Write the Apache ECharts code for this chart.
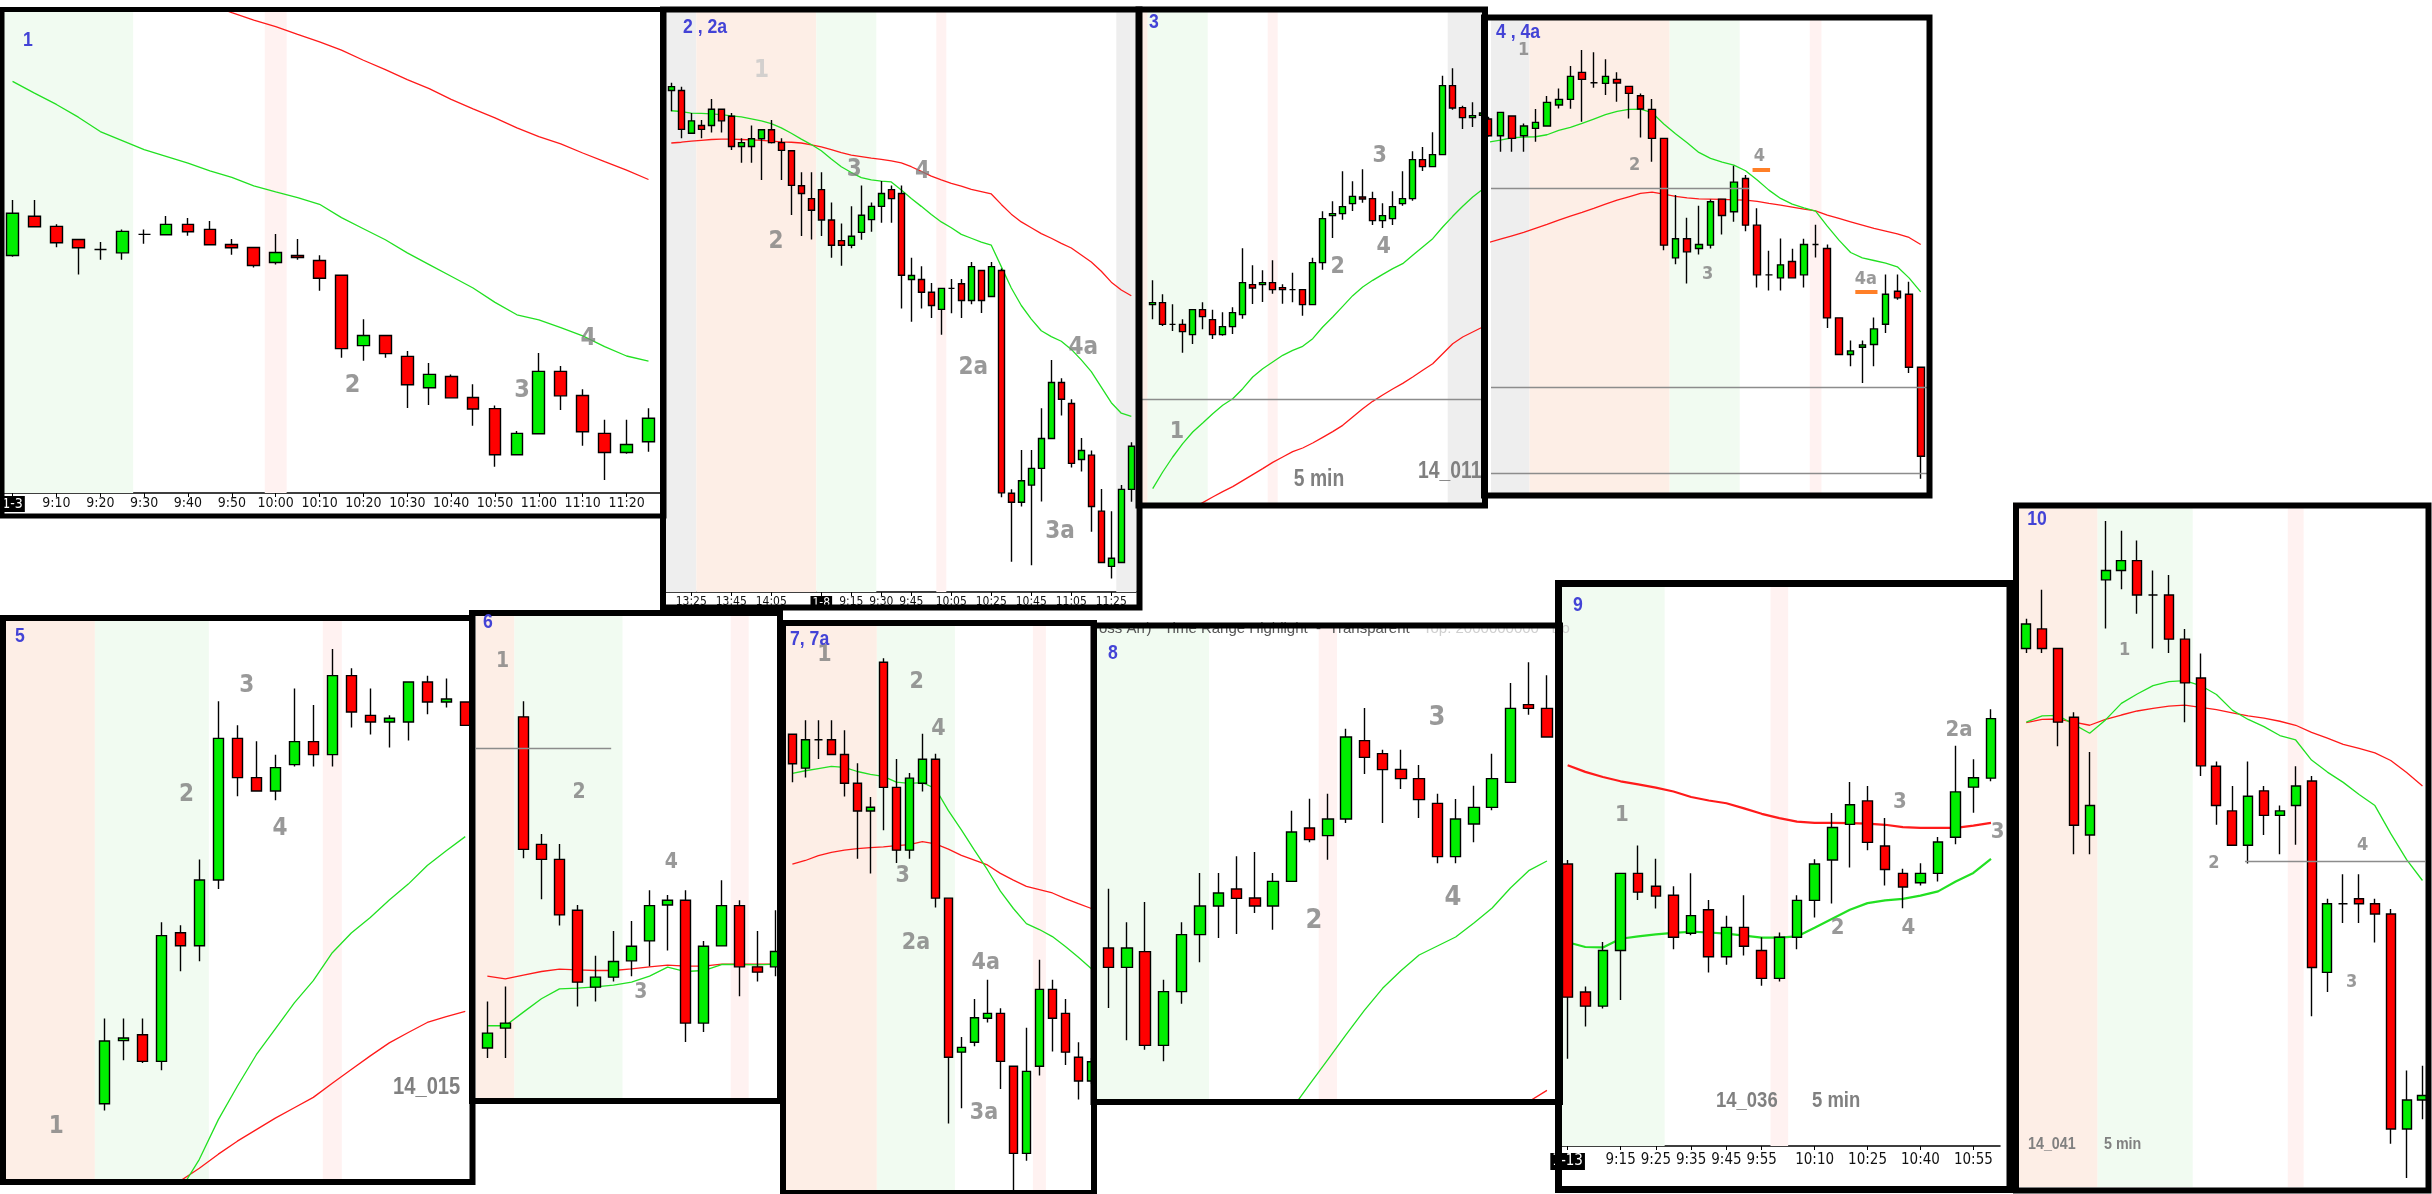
<!DOCTYPE html>
<html>
<head>
<meta charset="utf-8">
<title>Pullback setups 1-10</title>
<script src="https://cdn.jsdelivr.net/npm/echarts@6/dist/echarts.min.js"></script>
<style>
    html, body { margin: 0; padding: 0; background: #fff; }
    #chart { width: 2432px; height: 1194px; }
</style>
</head>
<body>
<div id="chart"></div>
<script>
const p1Candles = [
    [837, 963, 833, 1003], [954, 923, 923, 1003], [924, 875, 862, 930], [885, 860, 780, 885],
    [855, 855, 824, 877], [845, 909, 824, 915], [900, 900, 872, 915], [899, 930, 899, 955],
    [930, 908, 896, 949], [915, 869, 869, 940], [870, 860, 839, 886], [861, 807, 801, 861],
    [816, 846, 810, 901], [837, 831, 824, 886], [822, 769, 732, 838], [778, 559, 532, 778],
    [568, 598, 523, 647], [598, 544, 532, 598], [536, 451, 382, 552], [442, 482, 391, 516],
    [476, 412, 412, 482], [413, 379, 329, 453], [380, 242, 206, 389], [242, 306, 242, 313],
    [305, 491, 305, 546], [491, 418, 376, 507], [419, 311, 269, 438], [306, 249, 167, 347],
    [249, 273, 245, 347], [281, 351, 251, 381]
];
const p1MaFast = [1357, 1322, 1288, 1250, 1207, 1180, 1153, 1133, 1113, 1090, 1070, 1045, 1027, 1010, 990,
    950, 917, 884, 845, 810, 775, 740, 697, 660, 645, 622, 597, 565, 537, 522];
const p1MaSlow = [null, null, null, null, null, null, null, null, null, 1586, 1562, 1540, 1520, 1497, 1475,
    1450, 1420, 1392, 1362, 1335, 1303, 1275, 1248, 1218, 1192, 1170, 1143, 1117, 1092, 1064];
const p1Bands = [[null, 5.5, 'green'], [11.5, 12.5, 'pink']];
const p1TickBars = [0, 2, 4, 6, 8, 10, 12, 14, 16, 18, 20, 22, 24, 26, 28];
const p1TickLabels = ['1-3', '9:10', '9:20', '9:30', '9:40', '9:50', '10:00', '10:10', '10:20', '10:30',
    '10:40', '10:50', '11:00', '11:10', '11:20'];

const p2Candles = [
    [1368, 1378, 1315, 1388], [1368, 1268, 1245, 1378], [1258, 1290, 1258, 1310], [1278, 1268, 1245, 1292],
    [1278, 1320, 1260, 1346], [1320, 1290, 1260, 1320], [1302, 1224, 1215, 1310], [1224, 1234, 1182, 1245],
    [1224, 1244, 1182, 1278], [1244, 1267, 1138, 1267], [1267, 1234, 1232, 1292], [1234, 1214, 1138, 1245],
    [1213, 1124, 1048, 1213], [1123, 1103, 994, 1158], [1090, 1060, 985, 1158], [1113, 1035, 994, 1158],
    [1035, 970, 938, 1080], [982, 970, 917, 1026], [970, 993, 962, 1070], [1003, 1047, 984, 1124],
    [1036, 1070, 1005, 1080], [1070, 1103, 1028, 1135], [1113, 1090, 1028, 1124], [1103, 893, 807, 1124],
    [882, 892, 773, 938], [882, 849, 807, 916], [849, 815, 783, 873], [805, 859, 740, 859],
    [859, 859, 795, 883], [871, 828, 783, 883], [828, 915, 818, 927], [905, 828, 796, 905],
    [838, 915, 838, 927], [905, 333, 322, 910], [332, 309, 156, 342], [309, 364, 298, 443],
    [353, 396, 147, 443], [396, 473, 311, 551], [473, 617, 473, 675], [617, 574, 532, 628],
    [563, 409, 398, 574], [419, 442, 388, 474], [430, 298, 233, 442], [286, 154, 154, 343],
    [144, 165, 113, 286], [154, 342, 154, 353], [342, 453, 310, 463]
];
const p2MaFast = [1316, 1314, 1310, 1309, 1308, 1306, 1303, 1300, 1295, 1290, 1283, 1272, 1258, 1243, 1229,
    1213, 1192, 1172, 1157, 1144, 1138, 1135, 1133, 1112, 1090, 1070, 1049, 1030, 1015, 998,
    988, 978, 970, 915, 860, 815, 780, 750, 735, 723, 702, 675, 645, 605, 565, 538, 530];
const p2MaSlow = [1233, 1235, 1238, 1240, 1242, 1243, 1243, 1242, 1241, 1240, 1238, 1236, 1235, 1233, 1228,
    1223, 1216, 1208, 1202, 1198, 1194, 1191, 1187, 1182, 1172, 1160, 1148, 1138, 1129, 1122,
    1114, 1108, 1102, 1075, 1050, 1030, 1015, 1000, 988, 975, 963, 945, 927, 903, 875, 855, 840];
const p2Bands = [[null, 2.5, 'gray'], [2.5, 14.5, 'salmon'], [14.5, 20.5, 'green'], [26.5, 27.5, 'pink'],
    [44.5, null, 'gray']];
const p2TickBars = [2, 6, 10, 15, 18, 21, 24, 28, 32, 36, 40, 44];
const p2TickLabels = ['13:25', '13:45', '14:05', '1-8', '9:15', '9:30', '9:45', '10:05', '10:25', '10:45',
    '11:05', '11:25'];

const p3Candles = [
    [687, 693, 643, 760], [693, 628, 623, 718], [628, 628, 608, 688], [628, 606, 543, 643],
    [597, 672, 569, 672], [672, 651, 613, 694], [642, 597, 584, 672], [597, 621, 594, 664],
    [621, 663, 599, 679], [657, 753, 645, 856], [747, 737, 689, 805], [747, 753, 695, 790],
    [753, 732, 720, 820], [738, 732, 690, 748], [732, 732, 694, 783], [732, 687, 654, 732],
    [687, 813, 687, 828], [813, 945, 792, 967], [954, 960, 887, 997], [960, 981, 942, 1087],
    [990, 1012, 968, 1057], [1010, 1004, 993, 1093], [1005, 939, 926, 1026], [939, 954, 917, 991],
    [945, 981, 926, 1027], [990, 1005, 984, 1087], [1005, 1122, 999, 1147], [1122, 1101, 1088, 1160],
    [1101, 1137, 1101, 1204], [1137, 1344, 1137, 1374], [1344, 1277, 1272, 1396], [1278, 1248, 1214, 1284],
    [1248, 1254, 1220, 1294], [1255, 1262, 1248, 1272]
];
const p3MaFast = [135, 185, 230, 270, 305, 332, 360, 385, 405, 435, 470, 495, 515, 535, 550, 562, 585,
    620, 650, 682, 714, 740, 760, 778, 795, 810, 835, 860, 885, 920, 952, 982, 1010, 1033];
const p3MaSlow = [null, null, null, null, 75, 93, 110, 126, 141, 159, 177, 195, 214, 230, 246, 257, 272,
    289, 306, 325, 350, 375, 397, 416, 434, 451, 470, 490, 510, 540, 570, 590, 605, 620];
const p3Bands = [[null, -0.5, 'salmon'], [-0.5, 5.5, 'green'], [11.5, 12.5, 'pink'], [29.5, null, 'gray']];
const p3Levels = [[null, null, 402]];

const p4Candles = [
    [1243, 1193, 1190, 1250], [1193, 1263, 1145, 1263], [1252, 1185, 1145, 1252], [1193, 1222, 1145, 1230],
    [1215, 1233, 1175, 1273], [1222, 1293, 1222, 1312], [1285, 1302, 1275, 1335], [1302, 1371, 1274, 1402],
    [1383, 1362, 1235, 1450], [1352, 1352, 1337, 1443], [1350, 1371, 1315, 1422], [1362, 1351, 1295, 1383],
    [1341, 1320, 1245, 1341], [1313, 1273, 1188, 1320], [1272, 1185, 1115, 1303], [1185, 865, 850, 1185],
    [827, 884, 808, 1015], [884, 845, 750, 947], [855, 867, 837, 983], [865, 995, 855, 1002],
    [1003, 954, 897, 1003], [965, 1054, 935, 1103], [1065, 925, 907, 1075], [925, 776, 738, 976],
    [776, 776, 729, 848], [767, 806, 729, 885], [816, 767, 767, 854], [776, 867, 738, 884],
    [867, 867, 828, 926], [855, 647, 617, 867], [647, 537, 537, 647], [537, 548, 502, 579],
    [559, 566, 452, 579], [567, 614, 502, 648], [628, 718, 602, 777], [727, 707, 701, 777],
    [718, 499, 482, 755], [499, 232, 165, 499]
];
const p4MaFast = [1174, 1180, 1187, 1189, 1190, 1196, 1209, 1218, 1230, 1243, 1256, 1266, 1272, 1273, 1262,
    1228, 1199, 1172, 1143, 1125, 1114, 1105, 1088, 1060, 1030, 1005, 988, 977, 967, 922,
    880, 843, 827, 819, 811, 800, 767, 725];
const p4MaSlow = [873, 883, 893, 903, 915, 927, 940, 952, 963, 975, 988, 1000, 1010, 1020, 1024,
    1018, 1011, 1007, 1004, 1003, 1002, 1001, 1000, 996, 990, 985, 979, 973, 968, 955,
    945, 935, 925, 915, 907, 899, 888, 867];
const p4Bands = [[null, 3.5, 'gray'], [3.5, 15.5, 'salmon'], [15.5, 21.5, 'green'], [27.5, 28.5, 'pink']];
const p4Levels = [[null, 22.3, 1035], [null, null, 439], [null, null, 180]];
const p4Marks = [[22.6, 24.1, 1091], [31.4, 33.3, 725]];

const p5Candles = [
    [268, 437, 250, 498], [438, 445, 385, 498], [454, 382, 378, 498], [382, 721, 358, 757],
    [729, 694, 625, 749], [694, 871, 652, 926], [871, 1253, 847, 1353], [1253, 1147, 1097, 1288],
    [1147, 1111, 1111, 1245], [1111, 1174, 1086, 1209], [1182, 1244, 1177, 1387], [1244, 1209, 1177, 1343],
    [1209, 1422, 1177, 1494], [1422, 1324, 1282, 1442], [1315, 1297, 1263, 1387], [1297, 1307, 1228, 1315],
    [1297, 1405, 1247, 1405], [1405, 1351, 1318, 1422], [1351, 1359, 1336, 1414], [1351, 1288, 1288, 1351]
];
const p5MaFast = [null, null, null, null, 35, 118, 225, 315, 400, 470, 540, 600, 675, 728, 770, 817, 860,
    910, 950, 988];
const p5MaSlow = [null, null, null, null, 60, 94, 132, 167, 198, 229, 257, 285, 323, 360, 397, 432, 460,
    487, 503, 517];
const p5Bands = [[null, -0.5, 'salmon'], [-0.5, 5.5, 'green'], [11.5, 12.5, 'pink']];

const p6Candles = [
    [270, 315, 240, 410], [330, 345, 240, 455], [1265, 867, 840, 1312], [882, 837, 717, 913],
    [837, 670, 638, 883], [684, 468, 395, 700], [453, 483, 410, 547], [483, 530, 470, 622],
    [532, 576, 486, 652], [592, 698, 516, 744], [700, 714, 563, 730], [714, 345, 288, 744],
    [345, 576, 318, 592], [577, 698, 577, 774], [698, 514, 426, 714], [514, 498, 470, 622],
    [514, 560, 486, 684]
];
const p6MaFast = [337, 337, 378, 418, 448, 450, 454, 459, 468, 486, 513, 500, 503, 521, 521, 520, 522];
const p6MaSlow = [486, 478, 489, 500, 507, 505, 503, 503, 508, 514, 519, 516, 516, 522, 522, 522, 522];
const p6Bands = [[null, 1.5, 'salmon'], [1.5, 7.5, 'green'], [13.5, 14.5, 'pink']];
const p6Levels = [[null, 6.87, 1170]];

const p7Candles = [
    [1277, 1197, 1147, 1277], [1185, 1262, 1160, 1315], [1262, 1262, 1210, 1315], [1262, 1222, 1222, 1315],
    [1222, 1144, 1108, 1288], [1144, 1069, 940, 1198], [1069, 1079, 900, 1107], [1472, 1133, 1017, 1483],
    [1133, 963, 928, 1210], [963, 1158, 940, 1172], [1144, 1209, 1122, 1278], [1209, 833, 808, 1224],
    [833, 402, 223, 833], [416, 429, 264, 457], [443, 509, 432, 560], [508, 521, 496, 612],
    [521, 391, 316, 535], [378, 142, 40, 378], [142, 364, 122, 482], [378, 586, 353, 666],
    [586, 508, 418, 612], [521, 416, 381, 560], [402, 338, 288, 443], [338, 390, 330, 400]
];
const p7MaFast = [1171, 1178, 1184, 1190, 1187, 1176, 1168, 1163, 1147, 1144, 1146, 1130, 1070, 1018, 963,
    910, 852, 805, 764, 748, 729, 702, 673, 642];
const p7MaSlow = [925, 935, 948, 957, 963, 967, 970, 972, 975, 978, 986, 980, 966, 949, 936,
    923, 900, 882, 865, 856, 847, 832, 818, 805];
const p7Bands = [[null, 6.5, 'salmon'], [6.5, 12.5, 'green'], [18.5, 19.5, 'pink']];

const p8Candles = [
    [615, 557, 435, 793], [557, 615, 338, 692], [604, 323, 310, 753], [323, 484, 275, 520],
    [484, 655, 448, 692], [655, 741, 572, 840], [741, 780, 645, 840], [792, 764, 657, 890],
    [765, 741, 720, 903], [741, 815, 670, 840], [815, 963, 815, 1027], [975, 940, 932, 1063],
    [952, 1002, 880, 1078], [1002, 1248, 990, 1273], [1237, 1187, 1137, 1335], [1198, 1150, 990, 1210],
    [1151, 1123, 1092, 1210], [1123, 1060, 1005, 1164], [1049, 889, 869, 1078], [889, 1002, 869, 1062],
    [987, 1037, 932, 1102], [1037, 1123, 1028, 1198], [1112, 1334, 1112, 1410], [1345, 1334, 1315, 1472],
    [1334, 1248, 1248, 1433]
];
const p8MaFast = [null, null, null, null, null, null, null, null, null, null, 130, 206, 280, 355, 428,
    494, 547, 594, 621, 648, 690, 735, 795, 847, 876];
const p8MaSlow = [null, null, null, null, null, null, null, null, null, null, null, null, null, null, null,
    null, null, null, null, null, null, null, 125, 154, 188];
const p8Bands = [[null, 5.5, 'green'], [11.5, 12.5, 'pink']];

const p9Candles = [
    [875, 535, 378, 885], [548, 512, 460, 562], [512, 654, 506, 676], [654, 851, 528, 851],
    [851, 803, 783, 922], [818, 793, 761, 888], [795, 688, 657, 818], [698, 743, 693, 851],
    [758, 638, 598, 783], [638, 713, 618, 743], [713, 665, 641, 795], [654, 583, 564, 688],
    [583, 688, 575, 700], [688, 782, 657, 795], [782, 875, 738, 887], [885, 968, 774, 1005],
    [976, 1026, 866, 1084], [1036, 930, 910, 1074], [921, 861, 820, 992], [851, 816, 762, 863],
    [827, 851, 820, 877], [851, 931, 830, 944], [943, 1059, 925, 1177], [1071, 1095, 1006, 1142],
    [1094, 1246, 1086, 1270]
];
const p9MaFast = [675, 663, 662, 684, 690, 695, 699, 702, 700, 697, 692, 687, 687, 690, 712,
    735, 758, 775, 782, 786, 794, 805, 830, 852, 888];
const p9MaSlow = [1127, 1110, 1097, 1086, 1078, 1070, 1060, 1046, 1037, 1030, 1017, 1003, 992, 983, 980,
    980, 979, 978, 975, 969, 967, 967, 967, 973, 980];
const p9Bands = [[null, 5.5, 'green'], [11.5, 12.5, 'pink']];
const p9TickBars = [0, 3, 5, 7, 9, 11, 14, 17, 20, 23];
const p9TickLabels = ['1-13', '9:15', '9:25', '9:35', '9:45', '9:55', '10:10', '10:25', '10:40', '10:55'];

const p10Candles = [
    [1255, 1310, 1245, 1322], [1299, 1255, 1245, 1387], [1255, 1090, 1036, 1255], [1101, 859, 794, 1112],
    [837, 903, 794, 1023], [1409, 1430, 1300, 1541], [1430, 1452, 1388, 1519], [1452, 1375, 1333, 1497],
    [1375, 1375, 1255, 1430], [1375, 1276, 1245, 1420], [1276, 1178, 1090, 1299], [1189, 992, 969, 1244],
    [991, 903, 860, 1002], [891, 814, 814, 947], [814, 924, 773, 1002], [936, 881, 837, 947],
    [881, 891, 794, 903], [903, 947, 815, 991], [958, 540, 431, 969], [529, 683, 485, 694],
    [683, 683, 640, 749], [694, 683, 640, 749], [683, 660, 596, 694], [660, 178, 145, 671],
    [178, 243, 68, 309], [243, 253, 200, 320]
];
const p10MaFast = [1090, 1104, 1105, 1085, 1065, 1095, 1132, 1153, 1172, 1181, 1183, 1172, 1152, 1117, 1096,
    1080, 1060, 1050, 1005, 978, 955, 928, 903, 840, 782, 735];
const p10MaSlow = [1089, 1096, 1097, 1090, 1083, 1096, 1106, 1115, 1121, 1126, 1128, 1123, 1118, 1111, 1104,
    1099, 1092, 1083, 1067, 1054, 1040, 1031, 1021, 1004, 977, 947];
const p10Bands = [[null, 4.5, 'salmon'], [4.5, 10.5, 'green'], [16.5, 17.5, 'pink']];
const p10Levels = [[13.8, null, 778]];

const NARROW = '"DejaVu Sans Condensed", "Liberation Sans", sans-serif';
const bandColors = {salmon: '#fdeee6', green: '#f1fbf1', gray: '#eeeeee', pink: '#fff2f1'};

// layout of the collage: frame [x, y, w, h, line], grid [left, top, width, height]
const panels = [
    {
        candles: p1Candles, fast: p1MaFast, slow: p1MaSlow, bands: p1Bands, ticks: p1TickBars, tickLabels: p1TickLabels,
        frame: [2, 9.5, 662, 506.5, 5], grid: [4, 12, 657, 481], x: [-0.39, 29.57], y: [128, 1564], body: 0.56,
        tickFont: 14, tickMargin: 3, noteFont: 25, title: ['1', 28, 40, 'center'],
        notes: [['2', 15.5, 450], ['3', 23.23, 435], ['4', 26.26, 590]]
    },
    {
        candles: p2Candles, fast: p2MaFast, slow: p2MaSlow, bands: p2Bands, ticks: p2TickBars, tickLabels: p2TickLabels,
        frame: [663, 9.5, 476.5, 598, 6], grid: [666, 12, 470, 580], x: [-0.53, 46.47], y: [78, 1570], body: 0.64,
        tickFont: 12, tickMargin: 4, noteFont: 24, title: ['2 , 2a', 683, 27, 'left'],
        notes: [['1', 9.03, 1420, 'light'], ['2', 10.47, 980], ['3', 18.3, 1165], ['4', 25.13, 1160],
            ['2a', 30.2, 655], ['4a', 41.2, 705], ['3a', 38.87, 232]]
    },
    {
        candles: p3Candles, fast: p3MaFast, slow: p3MaSlow, bands: p3Bands, levels: p3Levels,
        frame: [1138.5, 9.5, 346.5, 496, 6], grid: [1142, 12, 340, 491], x: [-1.07, 32.93], y: [92, 1565], body: 0.64,
        noteFont: 23, title: ['3', 1154, 22, 'center'],
        notes: [['1', 2.43, 305], ['2', 18.5, 800], ['3', 22.7, 1133], ['4', 23.1, 860]],
        stamps: [['5 min', 1319, 480, 'center'], ['14_011', 1418, 472, 'left']]
    },
    {
        candles: p4Candles, fast: p4MaFast, slow: p4MaSlow, bands: p4Bands, levels: p4Levels, marks: p4Marks,
        frame: [1484, 17.5, 445.5, 478, 6], grid: [1491, 20, 436, 473], x: [0.2, 37.54], y: [122, 1540], body: 0.61,
        noteFont: 18, title: ['4 , 4a', 1496, 32, 'left'],
        notes: [['1', 3.0, 1450], ['2', 12.5, 1103], ['3', 18.76, 778], ['4', 23.18, 1132], ['4a', 32.3, 764]]
    },
    {
        candles: p5Candles, fast: p5MaFast, slow: p5MaSlow, bands: p5Bands,
        frame: [3, 618, 469.5, 564, 6], grid: [6, 620, 464, 559], x: [-5.18, 19.25], y: [65, 1572], body: 0.53,
        noteFont: 24, title: ['5', 20, 636, 'center'],
        notes: [['1', -2.54, 205], ['2', 4.33, 1100], ['3', 7.49, 1395], ['4', 9.25, 1010]],
        stamps: [['14_015', 393, 1087, 'left']]
    },
    {
        candles: p6Candles, fast: p6MaFast, slow: p6MaSlow, bands: p6Bands, levels: p6Levels,
        frame: [472, 613, 308, 488, 6], grid: [476, 616, 301, 482], x: [-0.63, 16.07], y: [120, 1568], body: 0.57,
        noteFont: 21, title: ['6', 488, 622, 'center'],
        notes: [['1', 0.85, 1432], ['2', 5.09, 1037], ['4', 10.2, 828], ['3', 8.52, 438]]
    },
    {
        candles: p7Candles, fast: p7MaFast, slow: p7MaSlow, bands: p7Bands,
        frame: [783, 623, 311, 570, 6], grid: [786, 626, 305, 565], x: [-0.49, 22.97], y: [40, 1570], body: 0.64,
        noteFont: 23, title: ['7, 7a', 790, 639, 'left'],
        notes: [['1', 2.46, 1492], ['2', 9.56, 1417], ['4', 11.23, 1292], ['3', 8.49, 892], ['2a', 9.51, 712],
            ['4a', 14.87, 657], ['3a', 14.74, 250]]
    },
    {
        candles: p8Candles, fast: p8MaFast, slow: p8MaSlow, bands: p8Bands,
        frame: [1093.5, 625.5, 466.5, 476.5, 6], grid: [1097, 628, 460, 471], x: [-0.64, 24.55], y: [162, 1575], body: 0.6,
        noteFont: 27, title: ['8', 1113, 653, 'center'],
        notes: [['2', 11.24, 695], ['3', 17.97, 1305], ['4', 18.85, 765]]
    },
    {
        candles: p9Candles, fast: p9MaFast, slow: p9MaSlow, bands: p9Bands, ticks: p9TickBars, tickLabels: p9TickLabels,
        frame: [1558.5, 583.5, 451.5, 606, 7], grid: [1562, 587, 438, 559], x: [-0.32, 24.51], y: [155, 1582], body: 0.57,
        tickFont: 15, tickMargin: 7, maWidth: 2.2, noteFont: 22, title: ['9', 1578, 605, 'center'],
        notes: [['1', 3.08, 1000], ['2', 15.31, 710], ['3', 18.84, 1032], ['4', 19.32, 710], ['2a', 22.19, 1215],
            ['3', 24.38, 955]],
        stamps: [['14_036', 1716, 1101, 'left'], ['5 min', 1812, 1101, 'left']]
    },
    {
        candles: p10Candles, fast: p10MaFast, slow: p10MaSlow, bands: p10Bands, levels: p10Levels,
        frame: [2016, 505.5, 412.5, 685, 6], grid: [2019, 508, 406, 679], x: [-0.46, 25.16], y: [48, 1570], body: 0.6,
        noteFont: 18, stampFont: 17, title: ['10', 2037, 519, 'center'],
        notes: [['1', 6.21, 1250], ['2', 11.83, 774], ['3', 20.53, 507], ['4', 21.22, 814]],
        stamps: [['14_041', 2028, 1144, 'left'], ['5 min', 2104, 1144, 'left']]
    }
];

let grids = [], xAxes = [], yAxes = [], series = [], graphics = [];

function toPoints(arr) {
    let pts = [];
    arr.forEach((v, i) => {
        if (v != null) pts.push([i, v]);
    });
    return pts;
}

// narrow bold text like the platform's own labels
function narrowText(text, x, y, align, size, color, z) {
    return {
        type: 'text', x: x, y: y, z: z, scaleX: 0.84, silent: true,
        style: {
            text: text, fill: color, textAlign: align, textVerticalAlign: 'middle',
            align: align, verticalAlign: 'middle', font: 'bold ' + size + 'px "Liberation Sans", sans-serif'
        }
    };
}

panels.forEach((p, k) => {
    const [gl, gt, gw, gh] = p.grid;
    const [xmin, xmax] = p.x;
    const edge = (v, fallback) => v == null ? fallback : Math.min(xmax, Math.max(xmin, v));

    grids.push({
        left: gl, top: gt, width: gw, height: gh,
        show: true, backgroundColor: '#fff', borderWidth: 0,
        containLabel: false, outerBoundsMode: 'none'
    });

    let xAxis = {
        gridIndex: k, type: 'value', min: xmin, max: xmax,
        show: !!p.ticks, splitLine: {show: false}
    };
    if (p.ticks) {
        xAxis.axisLine = {show: true, onZero: false, lineStyle: {color: '#000', width: 1.5}};
        xAxis.axisTick = {show: true, customValues: p.ticks, length: 4, lineStyle: {color: '#000'}};
        xAxis.axisLabel = {
            customValues: p.ticks, margin: p.tickMargin, hideOverlap: false,
            fontSize: p.tickFont, fontFamily: NARROW, color: '#111',
            formatter: v => {
                const idx = p.ticks.indexOf(Math.round(v));
                if (idx < 0) return '';
                const t = p.tickLabels[idx];
                return t.includes('-') ? '{d|' + t + '}' : t;
            },
            rich: {d: {backgroundColor: '#000', color: '#fff', padding: [1, 2], fontSize: p.tickFont, fontFamily: NARROW}}
        };
    }
    xAxes.push(xAxis);
    yAxes.push({gridIndex: k, type: 'value', min: p.y[0], max: p.y[1], show: false, splitLine: {show: false}});

    let lines = (p.levels || []).map(l => [
        {coord: [edge(l[0], xmin), l[2]], lineStyle: {color: '#8c8c8c', width: 1.3, type: 'solid'}},
        {coord: [edge(l[1], xmax), l[2]]}
    ]);
    (p.marks || []).forEach(m => lines.push([
        {coord: [m[0], m[2]], lineStyle: {color: '#ff7f27', width: 4, type: 'solid'}},
        {coord: [m[1], m[2]]}
    ]));

    series.push({
        type: 'candlestick', xAxisIndex: k, yAxisIndex: k, z: 3,
        barWidth: p.body * gw / (xmax - xmin),
        data: p.candles.map((c, i) => [i, c[0], c[1], c[2], c[3]]),
        encode: {x: 0, y: [1, 2, 3, 4]},
        itemStyle: {
            color: '#00ee00', color0: '#ff0000',
            borderColor: '#000', borderColor0: '#000', borderColorDoji: '#000', borderWidth: 1.4
        },
        markArea: {
            silent: true,
            data: p.bands.map(b => [
                {xAxis: edge(b[0], xmin), itemStyle: {color: bandColors[b[2]], opacity: 1}},
                {xAxis: edge(b[1], xmax)}
            ])
        },
        markLine: {silent: true, symbol: ['none', 'none'], label: {show: false}, data: lines}
    });

    series.push({
        type: 'line', xAxisIndex: k, yAxisIndex: k, z: 2, symbol: 'none',
        data: toPoints(p.slow), lineStyle: {color: '#ff1a1a', width: p.maWidth || 1.3}
    });
    series.push({
        type: 'line', xAxisIndex: k, yAxisIndex: k, z: 2, symbol: 'none',
        data: toPoints(p.fast), lineStyle: {color: '#22e022', width: p.maWidth || 1.3}
    });

    series.push({
        type: 'scatter', xAxisIndex: k, yAxisIndex: k, z: 6, symbolSize: 1, silent: true,
        itemStyle: {color: 'rgba(0,0,0,0)'},
        label: {
            show: true, position: 'inside', formatter: d => d.name,
            fontSize: p.noteFont, fontWeight: 'bold', fontFamily: NARROW
        },
        data: p.notes.map(n => ({name: n[0], value: [n[1], n[2]], label: {color: n[3] ? '#c8c8c8' : '#808080'}}))
    });

    (p.stamps || []).forEach(s => graphics.push(
        narrowText(s[0], s[1], s[2], s[3], p.stampFont || p.noteFont, '#808080', 101)
    ));
    graphics.push(narrowText(p.title[0], p.title[1], p.title[2], p.title[3], 21, '#4343d6', 101));
});

// indicator header peeking out above panel 8
graphics.push({
    type: 'text', x: 1099, y: 636, z: 99, silent: true,
    style: {text: 'oss Arr)   Time Range Highlight  -  Transparent', fill: '#555', font: '15px "Liberation Sans", sans-serif',
        textVerticalAlign: 'bottom', verticalAlign: 'bottom'}
});
graphics.push({
    type: 'text', x: 1423, y: 636, z: 99, silent: true,
    style: {text: 'Top: 2000000000   Bo', fill: '#cfcfcf', font: '15px "Liberation Sans", sans-serif',
        textVerticalAlign: 'bottom', verticalAlign: 'bottom'}
});

panels.forEach(p => {
    const [fx, fy, fw, fh, lw] = p.frame;
    graphics.push({
        type: 'rect', z: 100, silent: true,
        shape: {x: fx, y: fy, width: fw, height: fh},
        style: {fill: 'none', stroke: '#000', lineWidth: lw}
    });
});

let option = {
    animation: false,
    backgroundColor: '#fff',
    grid: grids,
    xAxis: xAxes,
    yAxis: yAxes,
    series: series,
    graphic: graphics
};

let myChart = echarts.init(document.getElementById('chart'));
myChart.setOption(option);
</script>
</body>
</html>
